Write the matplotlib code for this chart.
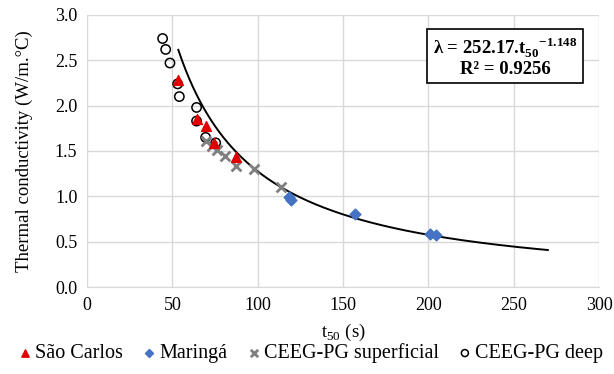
import numpy as np
import matplotlib.pyplot as plt

plt.rcParams['font.family'] = ['Liberation Serif', 'DejaVu Serif']
plt.rcParams['mathtext.fontset'] = 'custom'
plt.rcParams['mathtext.rm'] = 'Liberation Serif'
plt.rcParams['mathtext.bf'] = 'Liberation Serif:bold'

# Data: t50 (s) vs thermal conductivity (W/m.°C)
sao_carlos_t = [53.5, 64.2, 69.5, 74.4, 87.3]
sao_carlos_k = [2.28, 1.85, 1.77, 1.59, 1.43]

maringa_t = [118.5, 119.8, 156.8, 201.0, 204.5]
maringa_k = [0.99, 0.96, 0.80, 0.585, 0.577]

superf_t = [69.5, 73.5, 76.0, 80.6, 87.1, 98.0, 113.5]
superf_k = [1.61, 1.56, 1.51, 1.44, 1.33, 1.30, 1.10]

deep_t = [44.3, 46.1, 48.6, 53.1, 54.1, 64.2, 64.2, 69.5, 75.4]
deep_k = [2.74, 2.62, 2.47, 2.24, 2.10, 1.98, 1.83, 1.65, 1.59]

# Power trendline shown on the chart
fit_a = 252.17
fit_b = -1.148
fit_range = (53.5, 270)

fig = plt.figure(figsize=(6.14, 3.74), dpi=100)
ax = fig.add_axes([0.1417, 0.2326, 0.8339, 0.7274])

t_fit = np.linspace(fit_range[0], fit_range[1], 300)
ax.plot(t_fit, fit_a * t_fit ** fit_b, color='black', linewidth=1.4, zorder=2)

ax.scatter(deep_t, deep_k, s=45, facecolors='none', edgecolors='black',
           linewidths=1.1, label='CEEG-PG deep', zorder=3)
ax.scatter(superf_t, superf_k, s=50, marker='x', color='#7f7f7f',
           linewidths=2.0, label='CEEG-PG superficial', zorder=3)
ax.scatter(sao_carlos_t, sao_carlos_k, s=50, marker='^', color='#e00000',
           label='São Carlos', zorder=4)
ax.scatter(maringa_t, maringa_k, s=30, marker='D', color='#4472c4',
           label='Maringá', zorder=4)

ax.set_xlim(0, 300)
ax.set_ylim(0, 3.0)
ax.set_xticks(np.arange(0, 301, 50))
ax.set_yticks(np.arange(0, 3.01, 0.5))
ax.yaxis.set_major_formatter(plt.FormatStrFormatter('%.1f'))
ax.grid(True, color='#d9d9d9', linewidth=1.0)
ax.set_axisbelow(True)
for s in ax.spines.values():
    s.set_visible(False)
ax.spines['bottom'].set_visible(True)
ax.spines['bottom'].set_color('#d9d9d9')
ax.tick_params(length=0, labelsize=13, pad=7)

ax.set_xlabel('t$_{50}$ (s)', fontsize=13.5, labelpad=6)
ax.set_ylabel('Thermal conductivity (W/m.°C)', fontsize=13.5, labelpad=16)

ax.text(245, 2.54, 'λ = 252.17.t$_{\\mathbf{50}}$$^{\\mathbf{-1.148}}$\nR² = 0.9256',
        ha='center', va='center', fontsize=13.5, fontweight='bold',
        linespacing=1.1,
        bbox=dict(boxstyle='square,pad=0.3', facecolor='white',
                  edgecolor='black', linewidth=1.2))

handles, labels = ax.get_legend_handles_labels()
order = [2, 3, 1, 0]
fig.legend([handles[i] for i in order], [labels[i] for i in order],
           loc='lower center', bbox_to_anchor=(0.505, -0.02), ncol=4,
           frameon=False, fontsize=14.5, handletextpad=0.1, handlelength=0.8,
           columnspacing=0.9, markerscale=0.75)

fig.savefig('out.png', dpi=100)
